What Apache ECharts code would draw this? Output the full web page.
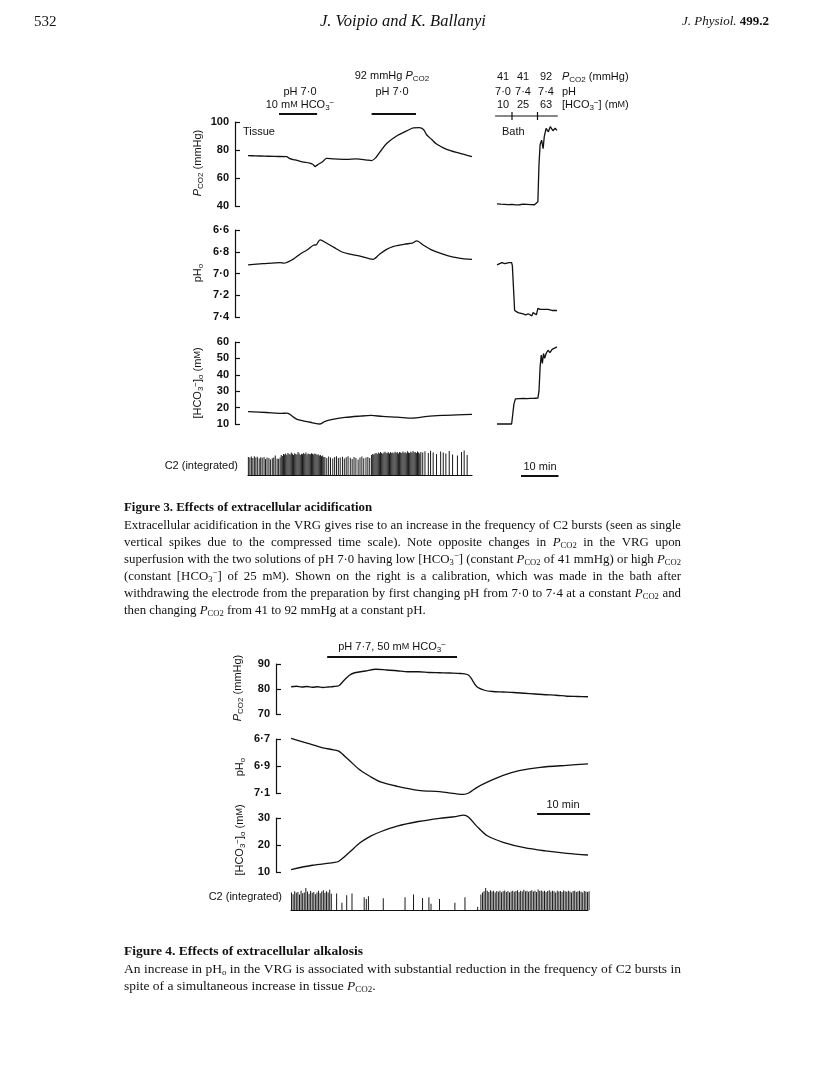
<!DOCTYPE html>
<html>
<head>
<meta charset="utf-8">
<title>Voipio &amp; Ballanyi, Figures 3 and 4</title>
<script src="https://cdn.jsdelivr.net/npm/echarts@6/dist/echarts.min.js"></script>
<style>
  html, body { margin: 0; padding: 0; background: #fff; }
  #main { width: 816px; height: 1088px; }
</style>
</head>
<body>
<div id="main"></div>
<script>
// ---------- Figure 3, tissue recordings (time in min) ----------
const f3PcoT = [0, 2, 4.5, 7, 10.3, 11.2, 12.6, 14.5, 16.5, 17.4, 18.0, 18.6, 19.3, 20.2, 21.0, 23, 26.4, 29, 31.5, 33.1, 34.2, 35.4, 37.2, 39.8, 42.5, 44.3, 45.9, 47.0, 47.9, 49.2, 50.5, 53.2, 56.8, 60];
const f3PcoV = [76, 75.8, 75.6, 75.4, 75.3, 73.8, 72.9, 71.5, 70.6, 69.6, 68.2, 69.4, 70.5, 72.2, 74, 73.6, 73.3, 73.6, 73, 72.4, 74.5, 78.8, 84.8, 90, 93.6, 95.8, 96, 94.6, 90.7, 87.5, 84.3, 80.5, 77.6, 75.2];

const f3PhT = [0, 4, 8.6, 9.6, 12, 14, 16, 17.5, 18.3, 19.3, 21, 23, 25, 27, 30, 33.5, 35, 37, 39, 42, 44, 45.2, 47, 49, 52, 55, 58, 60];
const f3PhV = [6.92, 6.91, 6.90, 6.905, 6.87, 6.82, 6.78, 6.74, 6.735, 6.69, 6.72, 6.76, 6.80, 6.82, 6.84, 6.87, 6.83, 6.78, 6.75, 6.73, 6.72, 6.70, 6.74, 6.78, 6.82, 6.85, 6.865, 6.87];

const f3HcoT = [0, 5, 9, 10.3, 11, 13, 15, 17, 19.3, 20.5, 22, 26, 30, 33, 36, 40, 44, 48, 52, 56, 60];
const f3HcoV = [17.5, 17, 16.5, 16.6, 16.2, 13, 11.8, 10.9, 10, 11.5, 12.5, 14, 14.8, 15.2, 14.6, 14.2, 13.6, 14.6, 15.2, 15.6, 15.9];

// ---------- Figure 3, bath calibration ----------
const bathPcoT = [0, 0.5, 1, 1.5, 2, 2.5, 3, 3.5, 4, 4.5, 5, 5.5, 6, 6.5, 7, 7.5, 8, 8.5, 9, 9.5, 10, 10.5, 10.9, 11.2, 11.5, 11.9, 12.3, 12.6, 13.1, 13.7, 14.2, 14.9, 15.5, 16];
const bathPcoV = [41.5, 42, 41.3, 41.8, 41.2, 41.9, 41, 41.6, 41.1, 41.7, 40.8, 41.5, 40.9, 41.4, 41.3, 40.8, 41.2, 40.6, 41, 40.5, 40.9, 41, 43, 70, 84, 87, 81, 89.5, 95.5, 93, 96.7, 93.8, 95.5, 94];

const bathPhT = [0, 0.5, 1.3, 2.1, 3.2, 3.9, 4.1, 4.7, 5.1, 5.6, 6.1, 6.7, 7.2, 7.7, 8.3, 8.8, 9.3, 9.6, 10.1, 10.5, 10.9, 11.5, 12.5, 13.6, 14.7, 16];
const bathPhV = [6.92, 6.91, 6.90, 6.91, 6.90, 6.90, 6.93, 7.34, 7.35, 7.36, 7.35, 7.37, 7.36, 7.38, 7.37, 7.38, 7.39, 7.36, 7.37, 7.38, 7.32, 7.33, 7.33, 7.33, 7.34, 7.34];

const bathHcoT = [0, 2, 3.9, 4.1, 4.5, 4.9, 5.3, 6, 7, 8, 9, 10, 10.9, 11.2, 11.5, 11.8, 12.1, 12.4, 12.7, 13.1, 13.6, 14.1, 14.7, 15.2, 16];
const bathHcoV = [10, 10, 10, 10.2, 22, 25.3, 25.6, 25.5, 25.6, 25.5, 25.6, 25.7, 25.8, 30, 45, 52, 47, 53, 50, 53, 55, 53.5, 55.5, 55, 57];

// C2 bursts, figure 3: [time (min), relative height]
const f3Bursts = [
  [0.1, .72], [0.5, .70], [0.9, .74], [1.3, .68], [1.7, .75], [2.1, .70], [2.5, .73], [3.0, .66], [3.4, .71], [3.8, .69],
  [4.3, .72], [4.7, .64], [5.1, .70], [5.6, .68], [6.0, .62], [6.5, .67], [6.9, .70], [7.3, .78], [7.8, .66], [8.2, .64],
  [8.6, .70], [8.9, .80], [9.2, .76], [9.5, .84], [9.8, .82], [10.1, .86], [10.4, .80], [10.7, .88], [11.0, .84], [11.3, .82],
  [11.6, .90], [11.9, .85], [12.2, .80], [12.5, .87], [12.8, .84], [13.1, .82], [13.4, .92], [13.7, .86], [14.0, .80], [14.3, .85],
  [14.6, .83], [14.9, .88], [15.2, .84], [15.5, .90], [15.8, .82], [16.1, .86], [16.4, .84], [16.7, .83], [17.0, .87], [17.3, .85],
  [17.6, .82], [17.9, .86], [18.2, .84], [18.5, .80], [18.8, .83], [19.1, .78], [19.4, .80], [19.7, .75], [20.0, .78], [20.3, .72],
  [20.6, .72], [21.1, .68], [21.6, .74], [22.1, .70], [22.7, .66], [23.2, .72], [23.7, .75], [24.2, .68], [24.7, .70], [25.3, .73],
  [25.8, .66], [26.3, .71], [26.8, .75], [27.4, .69], [27.9, .64], [28.4, .72], [28.9, .68], [29.5, .62], [30.0, .70], [30.5, .74],
  [31.0, .67], [31.6, .70], [32.1, .72], [32.6, .68],
  [33.1, .80], [33.4, .84], [33.7, .82], [34.0, .86], [34.3, .88], [34.6, .84], [34.9, .90], [35.2, .86], [35.5, .92], [35.8, .88],
  [36.1, .85], [36.4, .90], [36.7, .93], [37.0, .87], [37.3, .89], [37.6, .91], [37.9, .86], [38.2, .92], [38.5, .88], [38.8, .90],
  [39.1, .87], [39.4, .93], [39.7, .89], [40.0, .91], [40.3, .86], [40.6, .92], [40.9, .90], [41.2, .88], [41.5, .94], [41.8, .89],
  [42.1, .91], [42.4, .87], [42.7, .95], [43.0, .90], [43.3, .88], [43.6, .93], [43.9, .89], [44.2, .96], [44.5, .90], [44.8, .92],
  [45.1, .88], [45.4, .94], [45.7, .90], [46.0, .86], [46.3, .92],
  [46.8, .90], [47.4, .95], [48.3, .88], [48.9, .97], [49.6, .90], [50.5, .84], [51.6, .94], [52.3, .90], [53.0, .86], [53.9, .96],
  [54.8, .82], [56.1, .78], [57.2, .92], [57.9, .98], [58.7, .80]
];

// ---------- Figure 4 (time in min) ----------
const f4PcoT = [0, 1, 2, 3, 4, 5, 6, 7, 8, 9, 10, 11, 12, 14, 16, 18, 20, 22, 24, 26, 28, 30, 32, 33.5, 35, 36.5, 38, 40, 42, 44, 46, 48, 50, 52, 54, 56];
const f4PcoV = [80.9, 81.1, 80.8, 81.0, 80.7, 80.9, 80.6, 80.8, 81.0, 81.3, 83.5, 85.5, 86.5, 87.2, 87.9, 87.6, 87.3, 86.9, 86.9, 86.6, 86.5, 86.4, 86.2, 85.5, 81, 79.5, 79.0, 78.8, 78.6, 78.3, 78.0, 77.7, 77.5, 77.1, 77.0, 76.9];

const f4PhT = [0, 3, 6, 8, 9, 11, 13, 15, 17, 20, 24, 28, 31, 32.5, 33.5, 35, 37, 40, 43, 47, 52, 56];
const f4PhV = [6.695, 6.73, 6.765, 6.78, 6.79, 6.86, 6.93, 6.98, 7.02, 7.05, 7.08, 7.09, 7.105, 7.11, 7.10, 7.06, 7.02, 6.97, 6.935, 6.91, 6.895, 6.885];

const f4HcoT = [0, 4, 8, 9, 11, 13, 15, 17, 20, 24, 28, 31, 32.5, 33.5, 35, 37, 40, 44, 48, 52, 56];
const f4HcoV = [10.9, 12.5, 13.5, 14, 17.3, 20.8, 23.3, 25, 27, 28.7, 29.9, 30.5, 31.1, 30.3, 27, 23.4, 21, 19, 17.8, 16.9, 16.3];

const f4Bursts = [
  [0.1, .80], [0.4, .72], [0.7, .85], [1.0, .78], [1.3, .82], [1.6, .70], [1.9, .88], [2.2, .76], [2.5, .80], [2.8, 1.0],
  [3.1, .84], [3.4, .74], [3.7, .86], [4.0, .78], [4.3, .82], [4.6, .72], [4.9, .80], [5.2, .88], [5.5, .76], [5.8, .84],
  [6.1, .90], [6.4, .78], [6.7, .85], [7.0, .80], [7.3, .92], [7.6, .74],
  [8.6, .75], [9.6, .33], [10.5, .67], [11.5, .75], [13.8, .58], [14.2, .50], [14.6, .62], [17.4, .53], [21.5, .58], [23.1, .70],
  [24.8, .55], [26.0, .58], [26.4, .28], [28.0, .50], [30.9, .33], [32.8, .58], [35.2, .15],
  [35.8, .70], [36.1, .80], [36.4, .85], [36.7, 1.0], [37.0, .88], [37.3, .82], [37.6, .90], [37.9, .84], [38.2, .87], [38.5, .80],
  [38.8, .86], [39.1, .83], [39.4, .88], [39.7, .81], [40.0, .85], [40.3, .89], [40.6, .82], [40.9, .86], [41.2, .80], [41.5, .84],
  [41.8, .88], [42.1, .83], [42.4, .86], [42.7, .90], [43.0, .82], [43.3, .87], [43.6, .84], [43.9, .92], [44.2, .85], [44.5, .88],
  [44.8, .83], [45.1, .86], [45.4, .90], [45.7, .84], [46.0, .88], [46.3, .82], [46.6, .93], [46.9, .86], [47.2, .89], [47.5, .84],
  [47.8, .88], [48.1, .82], [48.4, .86], [48.7, .90], [49.0, .83], [49.3, .87], [49.6, .85], [49.9, .80], [50.2, .88], [50.5, .84],
  [50.8, .86], [51.1, .82], [51.4, .89], [51.7, .85], [52.0, .83], [52.3, .87], [52.6, .84], [52.9, .80], [53.2, .86], [53.5, .88],
  [53.8, .82], [54.1, .85], [54.4, .87], [54.7, .83], [55.0, .80], [55.3, .86], [55.6, .84], [55.9, .82], [56.2, .85]
];

// tick labels
const f3PcoTicks = [40, 60, 80, 100];
const f3PhTicks = [6.6, 6.8, 7.0, 7.2, 7.4];
const f3HcoTicks = [10, 20, 30, 40, 50, 60];
const f4PcoTicks = [70, 80, 90];
const f4PhTicks = [6.7, 6.9, 7.1];
const f4HcoTicks = [10, 20, 30];

// solution changes (min)
const f3Stim = [[8.3, 18.5], [33.1, 45]];
const bathSteps = [4, 10.8];
const f4Stim = [[6.8, 31.3]];

const SANS = '"Liberation Sans", Arial, sans-serif';
const SERIF = '"Liberation Serif", "Times New Roman", serif';
const INK = '#111';

const chart = echarts.init(document.getElementById('main'), null, {renderer: 'canvas'});

const dot = v => v.toFixed(1).replace('.', '·');
const plain = v => String(v);

function shownAxis(grid, min, max, ticks, fmt, inverse) {
  return {
    type: 'value', gridIndex: grid, min: min, max: max, inverse: !!inverse,
    axisLine: {show: true, onZero: false, lineStyle: {color: INK, width: 1.2}},
    axisTick: {show: true, inside: true, length: 5, customValues: ticks, lineStyle: {color: INK, width: 1.2}},
    axisLabel: {show: true, customValues: ticks, margin: 6, formatter: fmt, color: INK,
      fontFamily: SANS, fontSize: 11, fontWeight: 'bold'},
    splitLine: {show: false}
  };
}
function hiddenAxis(grid, min, max, inverse) {
  return {type: 'value', gridIndex: grid, min: min, max: max, inverse: !!inverse, show: false};
}
// the traces start a little right of the y axis line, hence the negative min
function timeAxis(grid, min, max, baseline) {
  return {
    type: 'value', gridIndex: grid, min: min, max: max, show: !!baseline,
    axisLine: {show: !!baseline, onZero: false, lineStyle: {color: INK, width: 1.2}},
    axisTick: {show: false}, axisLabel: {show: false}, splitLine: {show: false}
  };
}
function trace(t, v, idx, smooth) {
  return {
    type: 'line', xAxisIndex: idx, yAxisIndex: idx, silent: true, animation: false, clip: false,
    data: t.map((x, i) => [x, v[i]]), showSymbol: false, symbol: 'none',
    smooth: smooth ? 0.3 : false, lineStyle: {color: INK, width: 1.3}
  };
}
function bursts(pairs, idx) {
  return {
    type: 'bar', xAxisIndex: idx, yAxisIndex: idx, silent: true, animation: false,
    data: pairs, barWidth: 1, itemStyle: {color: '#1a1a1a'}
  };
}

const option = {
  backgroundColor: '#fff',
  animation: false,
  grid: [
    {left: 235, top: 122, width: 237, height: 84},
    {left: 497, top: 122, width: 60, height: 84},
    {left: 235, top: 230, width: 237, height: 87},
    {left: 497, top: 230, width: 60, height: 87},
    {left: 235, top: 342, width: 237, height: 82},
    {left: 497, top: 342, width: 60, height: 82},
    {left: 248, top: 450, width: 224, height: 25},
    {left: 276, top: 664, width: 312, height: 50},
    {left: 276, top: 739, width: 312, height: 54},
    {left: 276, top: 818, width: 312, height: 54},
    {left: 291, top: 888, width: 297, height: 22}
  ],
  xAxis: [
    timeAxis(0, -3.5, 60), timeAxis(1, 0, 16), timeAxis(2, -3.5, 60), timeAxis(3, 0, 16),
    timeAxis(4, -3.5, 60), timeAxis(5, 0, 16), timeAxis(6, 0, 60, true),
    timeAxis(7, -2.85, 56), timeAxis(8, -2.85, 56), timeAxis(9, -2.85, 56), timeAxis(10, 0, 56, true)
  ],
  yAxis: [
    shownAxis(0, 40, 100, f3PcoTicks, plain),
    hiddenAxis(1, 40, 100),
    shownAxis(2, 6.6, 7.4, f3PhTicks, dot, true),
    hiddenAxis(3, 6.6, 7.4, true),
    shownAxis(4, 10, 60, f3HcoTicks, plain),
    hiddenAxis(5, 10, 60),
    hiddenAxis(6, 0, 1),
    shownAxis(7, 70, 90, f4PcoTicks, plain),
    shownAxis(8, 6.7, 7.1, f4PhTicks, dot, true),
    shownAxis(9, 10, 30, f4HcoTicks, plain),
    hiddenAxis(10, 0, 1)
  ],
  series: [
    trace(f3PcoT, f3PcoV, 0, true),
    trace(bathPcoT, bathPcoV, 1),
    trace(f3PhT, f3PhV, 2, true),
    trace(bathPhT, bathPhV, 3),
    trace(f3HcoT, f3HcoV, 4, true),
    trace(bathHcoT, bathHcoV, 5),
    bursts(f3Bursts, 6),
    trace(f4PcoT, f4PcoV, 7, true),
    trace(f4PhT, f4PhV, 8, true),
    trace(f4HcoT, f4HcoV, 9, true),
    bursts(f4Bursts, 10)
  ]
};
chart.setOption(option);

// ---------- text helpers ----------
function richSet(fam, size, weight) {
  const base = {fontFamily: fam, fill: INK, fontWeight: weight || 'normal'};
  const small = Math.round(size * 0.7);
  return {
    i: Object.assign({}, base, {fontSize: size, fontStyle: 'italic', lineHeight: size + 2}),
    sub: Object.assign({}, base, {fontSize: small, verticalAlign: 'bottom', lineHeight: small}),
    sup: Object.assign({}, base, {fontSize: small, verticalAlign: 'top', lineHeight: small}),
    sc: Object.assign({}, base, {fontSize: Math.round(size * 0.78), lineHeight: size + 2}),
    b: Object.assign({}, base, {fontSize: size, fontWeight: 'bold', lineHeight: size + 2})
  };
}
const measureCtx = document.createElement('canvas').getContext('2d');
function measure(str, fam, size, weight) {
  const rich = richSet(fam, size, weight);
  const re = /\{(\w+)\|([^}]*)\}|([^{]+)/g;
  let m, w = 0;
  while ((m = re.exec(str))) {
    let st = {fontSize: size, fontWeight: weight || 'normal', fontStyle: 'normal'};
    let s = m[3];
    if (!s) { st = Object.assign({fontStyle: 'normal'}, rich[m[1]]); s = m[2]; }
    measureCtx.font = (st.fontStyle || 'normal') + ' ' + (st.fontWeight || 'normal') + ' ' + st.fontSize + 'px ' + fam;
    w += measureCtx.measureText(s).width;
  }
  return w;
}
function label(x, y, text, o) {
  o = o || {};
  const size = o.size || 11, fam = o.family || SANS;
  return {
    type: 'text', x: x, y: y, rotation: o.rot || 0, scaleX: o.sx || 1, silent: true,
    style: {
      text: text, fill: INK, fontFamily: fam, fontSize: size,
      fontWeight: o.weight || 'normal', fontStyle: o.fstyle || 'normal',
      align: o.align || 'center', verticalAlign: 'middle', lineHeight: size + 2,
      rich: richSet(fam, size, o.weight)
    }
  };
}
function rule(x1, y1, x2, y2, w) {
  return {type: 'line', silent: true, shape: {x1: x1, y1: y1, x2: x2, y2: y2}, style: {stroke: INK, lineWidth: w || 1.2}};
}

// caption paragraphs: one condensing factor, justified by word spacing
const CAP_X = 124, CAP_W = 557, CAP_SIZE = 13.5;
function paragraph(lines, top, step, elems) {
  let sx = 1;
  lines.forEach(ln => {
    if (ln.j) sx = Math.min(sx, CAP_W / measure(ln.t, SERIF, CAP_SIZE, ln.w));
  });
  lines.forEach((ln, i) => {
    const y = top + i * step;
    const words = ln.t.split(' ');
    const ws = words.map(w => measure(w, SERIF, CAP_SIZE, ln.w) * sx);
    const total = ws.reduce((a, b) => a + b, 0);
    const space = measure(' ', SERIF, CAP_SIZE, ln.w) * sx;
    const gap = ln.j && words.length > 1 ? (CAP_W - total) / (words.length - 1) : space;
    let cx = CAP_X;
    words.forEach((w, k) => {
      elems.push(label(cx, y, w, {family: SERIF, size: CAP_SIZE, align: 'left', weight: ln.w, sx: sx}));
      cx += ws[k] + gap;
    });
  });
}

const PCO = '{i|P}{sub|CO2}';
const HCO = 'HCO{sub|3}{sup|−}';
const MM = 'm{sc|M}';

const g = [];
// running head
g.push(label(34, 22, '532', {family: SERIF, size: 15, align: 'left'}));
g.push(label(403, 22, 'J. Voipio and K. Ballanyi', {family: SERIF, size: 16.5, fstyle: 'italic'}));
g.push(label(769, 22, '{i|J. Physiol.} {b|499.2}', {family: SERIF, size: 13, align: 'right'}));

// figure 3 labels
g.push(label(300, 92, 'pH 7·0'));
g.push(label(300, 105, '10 ' + MM + ' ' + HCO));
g.push(label(392, 76, '92 mmHg ' + PCO));
g.push(label(392, 92, 'pH 7·0'));
[['41', '41', '92', PCO + ' (mmHg)', 77], ['7·0', '7·4', '7·4', 'pH', 92], ['10', '25', '63', '[' + HCO + '] (' + MM + ')', 105]]
  .forEach(r => {
    g.push(label(503, r[4], r[0]));
    g.push(label(523, r[4], r[1]));
    g.push(label(546, r[4], r[2]));
    g.push(label(562, r[4], r[3], {align: 'left'}));
  });
g.push(label(243, 132, 'Tissue', {align: 'left'}));
g.push(label(502, 132, 'Bath', {align: 'left'}));
g.push(label(198, 163, PCO + ' (mmHg)', {rot: Math.PI / 2}));
g.push(label(198, 273, 'pH{sub|o}', {rot: Math.PI / 2}));
g.push(label(198, 383, '[' + HCO + ']{sub|o} (' + MM + ')', {rot: Math.PI / 2}));
g.push(label(238, 466, 'C2 (integrated)', {align: 'right'}));
g.push(label(540, 467, '10 min'));

// figure 4 labels
g.push(label(392, 647, 'pH 7·7, 50 ' + MM + ' ' + HCO));
g.push(label(238, 688, PCO + ' (mmHg)', {rot: Math.PI / 2}));
g.push(label(240, 767, 'pH{sub|o}', {rot: Math.PI / 2}));
g.push(label(240, 840, '[' + HCO + ']{sub|o} (' + MM + ')', {rot: Math.PI / 2}));
g.push(label(282, 897, 'C2 (integrated)', {align: 'right'}));
g.push(label(563, 805, '10 min'));

// solution bars and scale bars placed through the time axes
const px = (axis, t) => chart.convertToPixel({xAxisIndex: axis}, t);
f3Stim.forEach(s => g.push(rule(px(0, s[0]), 114, px(0, s[1]), 114, 2.2)));
f4Stim.forEach(s => g.push(rule(px(7, s[0]), 657, px(7, s[1]), 657, 2.2)));
g.push(rule(px(1, -0.5), 116, px(1, 16.2), 116, 1.2));
bathSteps.forEach(t => g.push(rule(px(1, t), 112, px(1, t), 120, 1.2)));
g.push(rule(px(1, 6.4), 476, px(1, 16.4), 476, 2));
g.push(rule(px(7, 46.4), 814, px(7, 56.4), 814, 2));

// captions
paragraph([
  {t: 'Figure 3. Effects of extracellular acidification', w: 'bold'},
  {t: 'Extracellular acidification in the VRG gives rise to an increase in the frequency of C2 bursts (seen as single', j: true},
  {t: 'vertical spikes due to the compressed time scale). Note opposite changes in ' + PCO + ' in the VRG upon', j: true},
  {t: 'superfusion with the two solutions of pH 7·0 having low [' + HCO + '] (constant ' + PCO + ' of 41 mmHg) or high ' + PCO, j: true},
  {t: '(constant [' + HCO + '] of 25 ' + MM + '). Shown on the right is a calibration, which was made in the bath after', j: true},
  {t: 'withdrawing the electrode from the preparation by first changing pH from 7·0 to 7·4 at a constant ' + PCO + ' and', j: true},
  {t: 'then changing ' + PCO + ' from 41 to 92 mmHg at a constant pH.'}
], 508, 17, g);
paragraph([
  {t: 'Figure 4. Effects of extracellular alkalosis', w: 'bold'},
  {t: 'An increase in pH{sub|o} in the VRG is associated with substantial reduction in the frequency of C2 bursts in', j: true},
  {t: 'spite of a simultaneous increase in tissue ' + PCO + '.'}
], 952, 17, g);

chart.setOption({graphic: {elements: g}});
</script>
</body>
</html>
